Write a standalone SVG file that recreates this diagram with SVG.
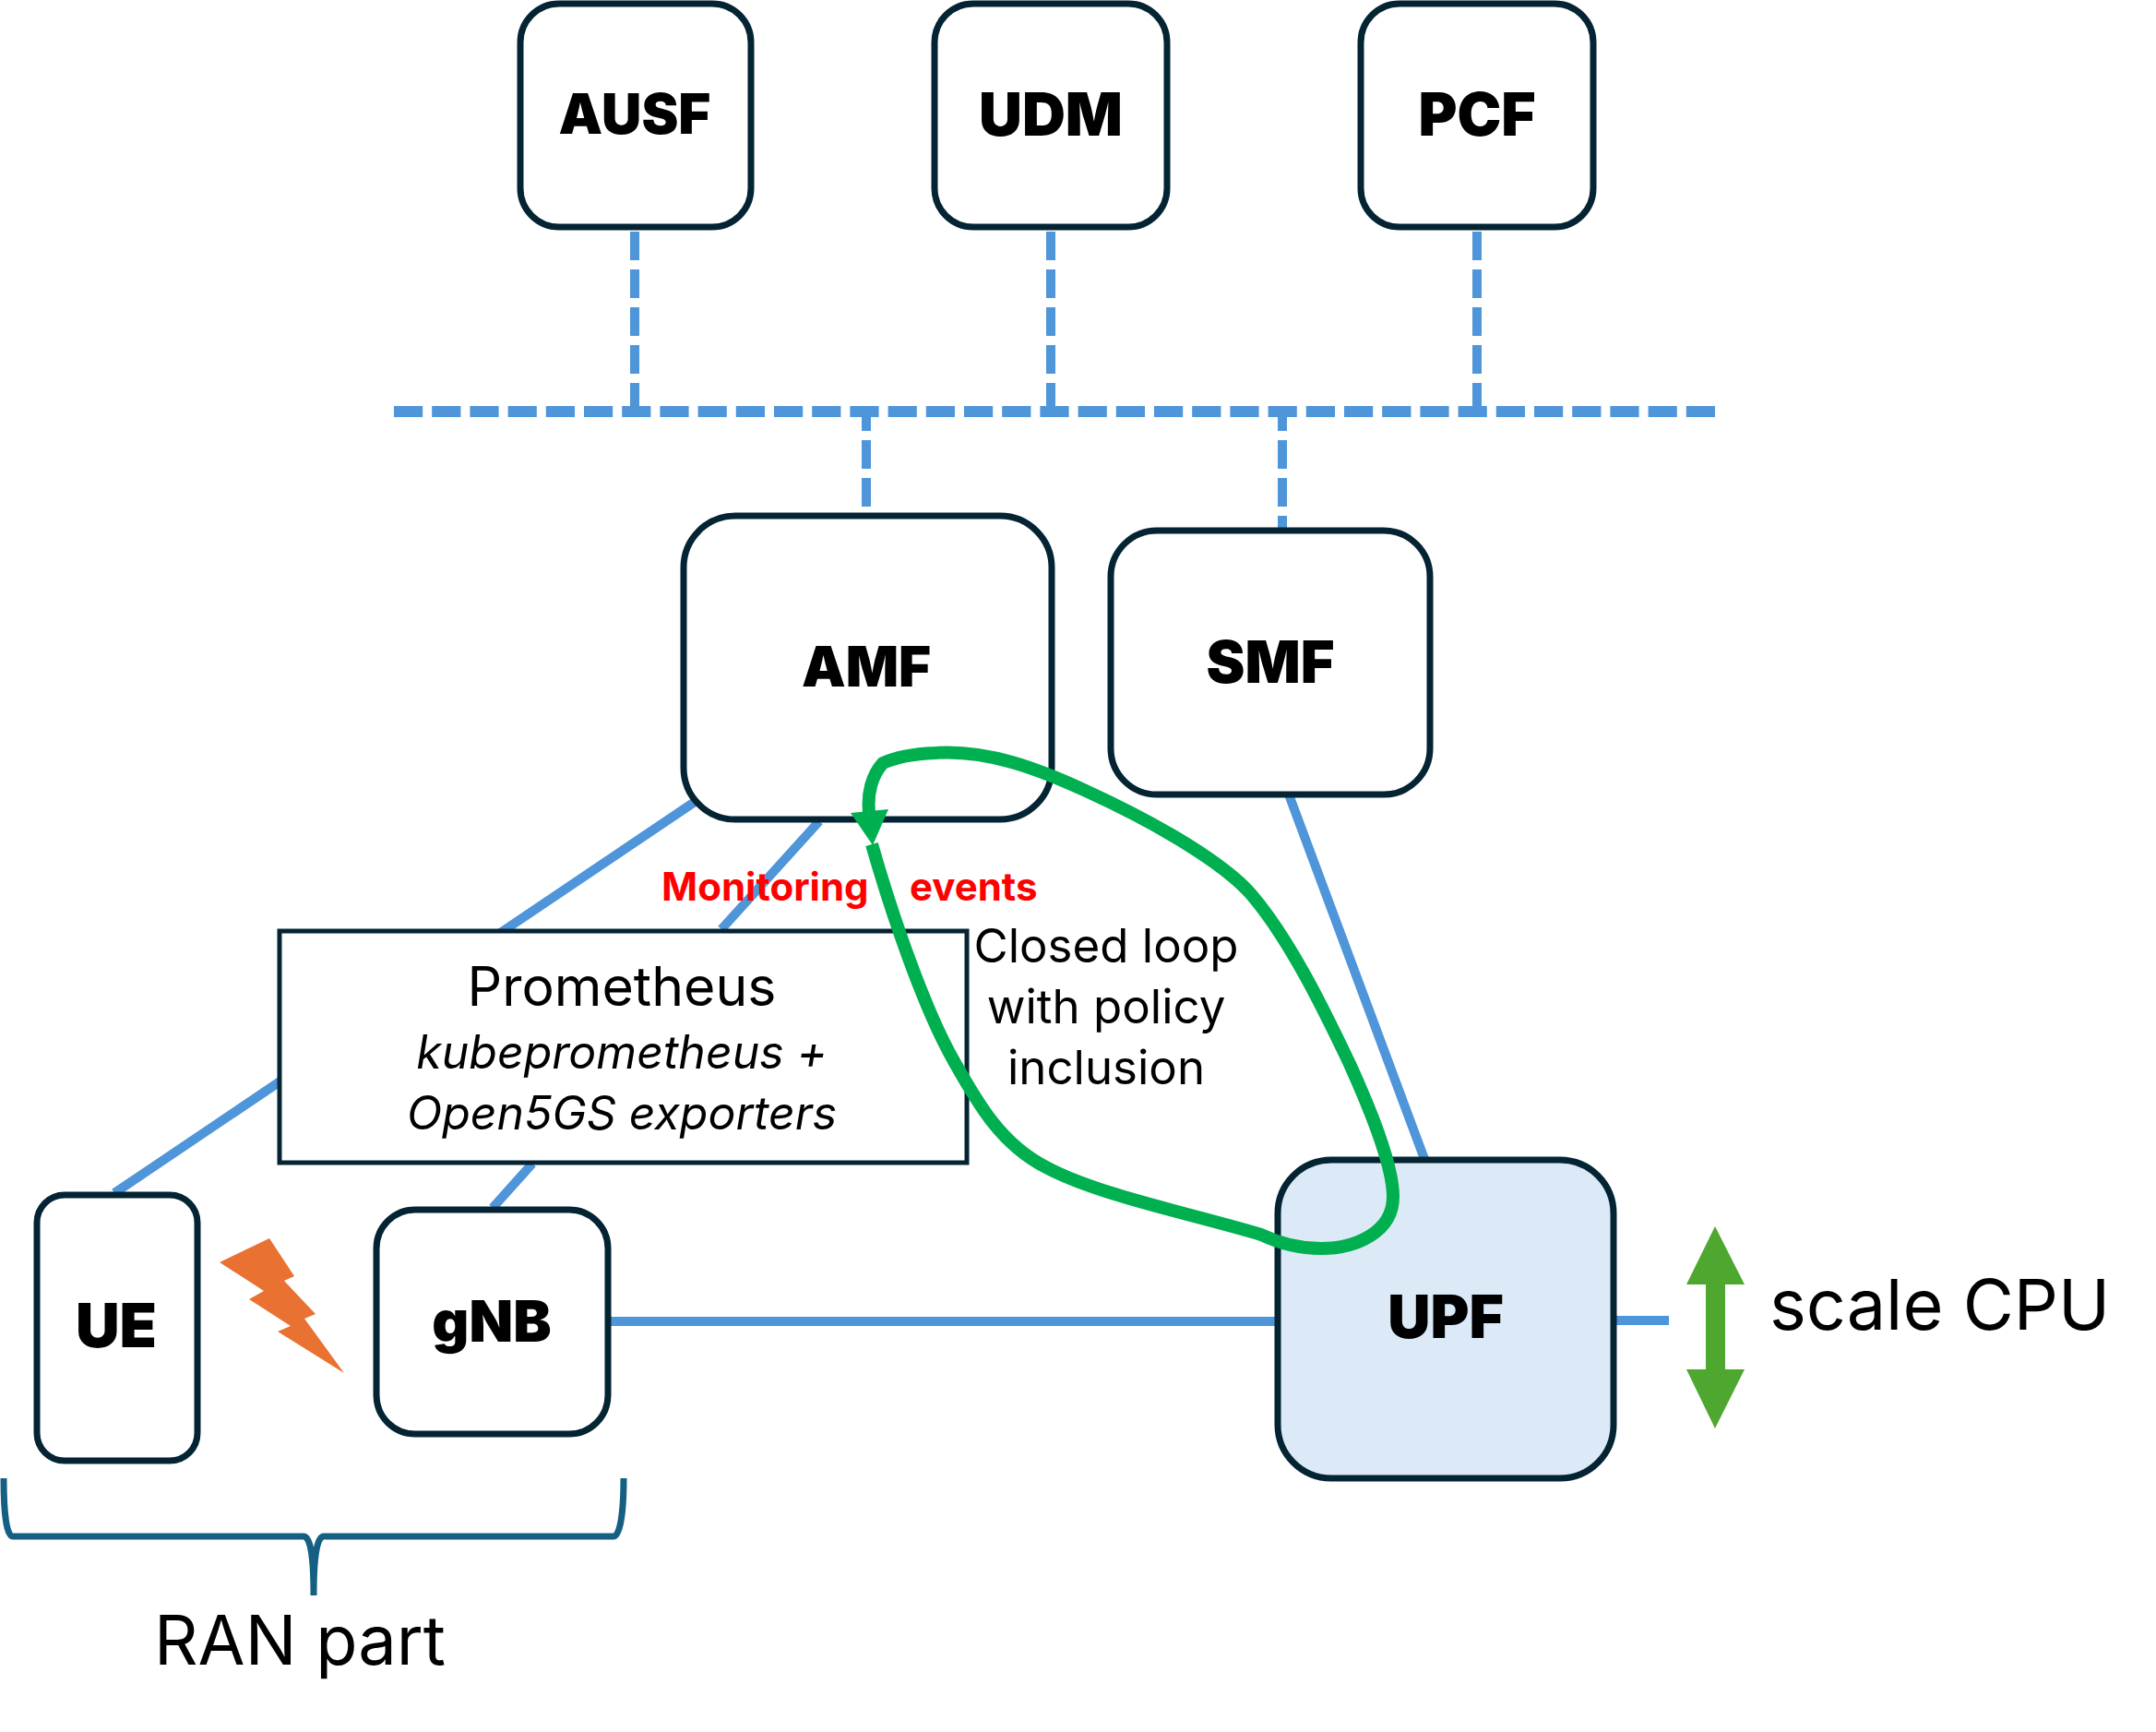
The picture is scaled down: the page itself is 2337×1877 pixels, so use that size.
<svg xmlns="http://www.w3.org/2000/svg" width="2337" height="1877" viewBox="0 0 2337 1877">
<style>
.n{fill:#fff;stroke:#042433;stroke-width:7}
.l{font-family:Inter,"Liberation Sans",sans-serif;font-weight:900;font-size:63px;text-anchor:middle;fill:#000}
.t{font-family:Inter,"Liberation Sans",sans-serif;fill:#000}
.c{text-anchor:middle}
.b{fill:none;stroke:#4F95D9;stroke-width:10}
.d{fill:none;stroke:#4F95D9;stroke-width:10;stroke-dasharray:31 10}
.r{font-family:Inter,"Liberation Sans",sans-serif;font-weight:700;font-size:42px;fill:#f00}
</style>
<rect width="2337" height="1877" fill="#fff"/>
<g id="connectors">
<path class="d" style="stroke-width:12;stroke-dasharray:31.2 10" d="M427,446H1859"/>
<path class="d" d="M688,251V446M1139,251V446M1601,251V446"/>
<path class="d" style="stroke-dashoffset:11" d="M939,447V552M1390,447V575"/>
<path class="b" d="M753,869L124,1293M888,890L782,1007M577,1261L534,1309M1397,861L1544,1256M660,1432H1385M1750,1431H1809"/>
</g>
<g id="AUSF"><rect class="n" x="564" y="4" width="250" height="242" rx="42"/><text class="l" style="font-size:60px" x="688" y="145">AUSF</text></g>
<g id="UDM"><rect class="n" x="1013" y="4" width="252" height="242" rx="42"/><text class="l" style="font-size:65px" x="1139" y="147">UDM</text></g>
<g id="PCF"><rect class="n" x="1475" y="4" width="252" height="242" rx="42"/><text class="l" style="font-size:64px" x="1601" y="147">PCF</text></g>
<g id="AMF"><rect class="n" x="741" y="559" width="399" height="329" rx="56"/><text class="l" style="font-size:60px" x="939" y="744">AMF</text></g>
<g id="SMF"><rect class="n" x="1204" y="575" width="346" height="286" rx="50"/><text class="l" x="1377" y="740">SMF</text></g>
<g id="UPF"><rect class="n" style="fill:#DCEAF7" x="1385" y="1257" width="364" height="345" rx="58"/><text class="l" style="font-size:64px" x="1567" y="1450">UPF</text></g>
<g id="UE"><rect class="n" x="40" y="1295" width="174" height="288" rx="30"/><text class="l" style="font-size:66px" x="126" y="1460">UE</text></g>
<g id="gNB"><rect class="n" x="408" y="1311" width="251" height="243" rx="42"/><text class="l" style="font-size:62px" x="533" y="1454">gNB</text></g>
<g id="Prometheus"><rect x="303" y="1009" width="745" height="251" fill="#fff" stroke="#042433" stroke-width="5"/>
<text class="t c" x="674" y="1090" font-size="59">Prometheus</text>
<text class="t c" x="674" y="1158" font-size="50" font-style="italic">kubeprometheus +</text>
<text class="t c" x="674" y="1224" font-size="50" font-style="italic">Open5GS exporters</text></g>
<polygon id="bolt" fill="#E97132" points="238,1368 292,1342 319,1383 308,1388 342,1424 330,1429 373,1488 301,1443 315,1437 270,1408 286,1399"/>
<path id="bracket" fill="none" stroke="#156082" stroke-width="7" d="M4,1602C4,1640 7,1665 14,1665H329C337,1665 340,1690 340,1729C340,1690 343,1665 351,1665H665C672,1665 676,1640 676,1602"/>
<path id="loop" fill="none" stroke="#00B050" stroke-width="14" d="M945,915C965,985 1000,1090 1034,1150C1060,1196 1085,1240 1134,1265C1190,1295 1290,1315 1367,1338C1390,1349 1410,1353 1432,1353C1470,1353 1510,1335 1510,1297C1510,1260 1482,1195 1463,1153C1440,1105 1400,1020 1356,969C1328,937 1260,895 1177,857C1125,833 1070,812 1013,816C990,817 970,821 957,827C945,840 940,860 942,880"/>
<polygon fill="#00B050" points="922,881 963,877 946,916"/>
<polygon id="scale" fill="#4EA72E" points="1859,1329 1891,1392 1870,1392 1870,1484 1891,1484 1859,1548 1828,1484 1849,1484 1849,1392 1828,1392"/>
<text class="r" x="717" y="976">Monitoring</text>
<text class="r" x="986" y="976">events</text>
<text class="t c" x="1199" y="1043" font-size="51">Closed loop</text>
<text class="t c" x="1199" y="1109" font-size="51">with policy</text>
<text class="t c" x="1199" y="1175" font-size="51">inclusion</text>
<text class="t" x="1918" y="1441" font-size="75.5">scale CPU</text>
<text class="t" x="167" y="1804" font-size="74">RAN part</text>
</svg>
